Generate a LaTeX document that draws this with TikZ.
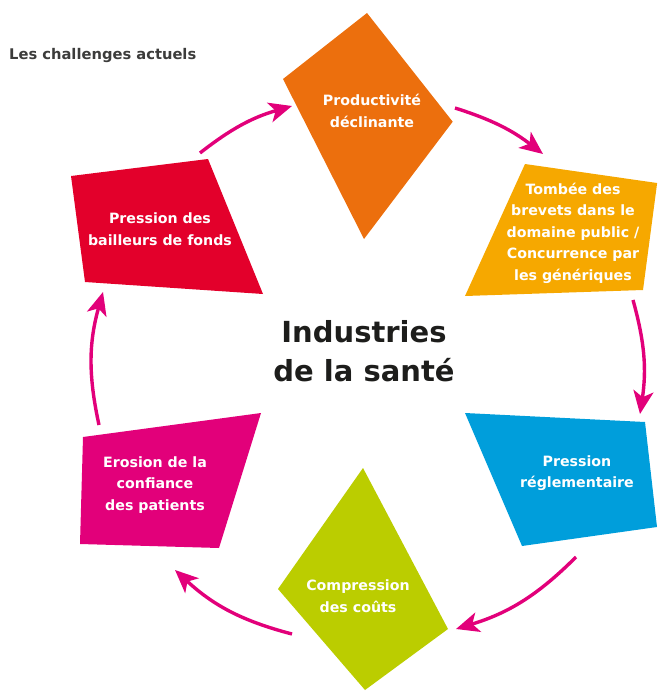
\documentclass[tikz,border=0pt]{standalone}
\usepackage{fontspec}
\setmainfont{DejaVu Sans}
\usetikzlibrary{arrows.meta}
\definecolor{cOrange}{HTML}{EC6F0D}
\definecolor{cYellow}{HTML}{F6A800}
\definecolor{cBlue}{HTML}{009EDB}
\definecolor{cGreen}{HTML}{BBCD00}
\definecolor{cPink}{HTML}{E2007A}
\definecolor{cRed}{HTML}{E3002B}
\definecolor{cArrow}{HTML}{E2007A}
\definecolor{cDark}{HTML}{1D1D1B}
\definecolor{cGrey}{HTML}{3C3C3B}
\tikzset{
  lbl/.style={text=white, align=center, inner sep=0pt,
    font=\bfseries\fontsize{14.2}{21.5}\selectfont},
  cyc/.style={draw=cArrow, line width=3.4pt,
    -{Stealth[length=23pt,width=20pt,inset=6pt]}},
}
\begin{document}
\begin{tikzpicture}[x=1pt,y=-1pt]
\useasboundingbox (0,0) rectangle (657,693);
% shapes
\fill[cOrange] (367,13) -- (452.7,121.7) -- (364,239) -- (283,79) -- cycle;
\fill[cYellow] (525,164) -- (657,183) -- (657,184) -- (643,290) -- (465,296) -- cycle;
\fill[cBlue] (465,413) -- (645,422) -- (657,527) -- (522,546) -- cycle;
\fill[cGreen] (363,468) -- (448,629) -- (365,690) -- (278,589) -- cycle;
\fill[cPink] (83,437) -- (261,413) -- (219,548) -- (80,544) -- cycle;
\fill[cRed] (71,176) -- (208,159) -- (263,294) -- (85,282) -- cycle;
% labels
\node[lbl] (prod) at (372,111) {Productivité\\déclinante};
\node[lbl] (brev) at (573,233) {Tombée des\\brevets dans le\\domaine public /\\Concurrence par\\les génériques};
\node[lbl] (regl) at (577,473) {Pression\\réglementaire};
\node[lbl] (cout) at (358,596) {Compression\\des coûts};
\node[lbl] (conf) at (155,485) {Erosion de la\\confiance\\des patients};
\node[lbl] (bail) at (160,229) {Pression des\\bailleurs de fonds};
\node[text=cDark, align=center, inner sep=0pt,
  font=\bfseries\fontsize{29}{39}\selectfont] (center) at (364,351) {Industries\\de la santé};
\node[text=cGrey, anchor=west, inner sep=0pt,
  font=\bfseries\fontsize{14.7}{16}\selectfont] (title) at (9,56) {Les challenges actuels};
% arrow end points
\coordinate (a1s) at (200,153); \coordinate (a1e) at (292,106);
\coordinate (a2s) at (455,108); \coordinate (a2e) at (543,154);
\coordinate (a3s) at (633,300); \coordinate (a3e) at (640,414);
\coordinate (a4s) at (576,557); \coordinate (a4e) at (456,629);
\coordinate (a5s) at (292,634); \coordinate (a5e) at (175,570);
\coordinate (a6s) at (99,425);  \coordinate (a6e) at (103,292);
\draw[cyc] (a1s) to[bend left=11] (a1e);
\draw[cyc] (a2s) to[bend left=10] (a2e);
\draw[cyc] (a3s) to[bend left=12] (a3e);
\draw[cyc] (a4s) to[bend left=14] (a4e);
\draw[cyc] (a5s) to[bend left=14] (a5e);
\draw[cyc] (a6s) to[bend left=14] (a6e);
\end{tikzpicture}
\end{document}
